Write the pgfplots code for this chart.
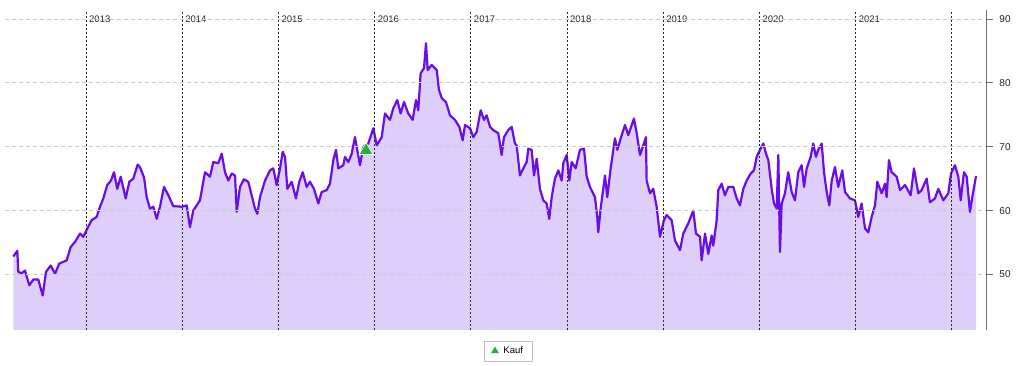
\documentclass[border=0pt]{standalone}
\usepackage{fontspec}
\setmainfont{Liberation Sans}
\usepackage{pgfplots}
\usepackage{pgfplotstable}
\pgfplotsset{compat=1.18}
\definecolor{linec}{RGB}{106,14,232}
\definecolor{fillc}{RGB}{222,207,250}
\definecolor{buyc}{RGB}{30,180,50}
\pgfplotstableread{
x y
2012.244 52.8
2012.286 53.7
2012.296 50.4
2012.332 50.2
2012.366 50.6
2012.411 48.3
2012.452 49.2
2012.504 49.2
2012.550 46.7
2012.584 50.4
2012.633 51.4
2012.678 50.1
2012.722 51.7
2012.799 52.2
2012.841 54.3
2012.886 55.1
2012.938 56.4
2012.972 55.9
2013.014 57.2
2013.059 58.5
2013.111 59.0
2013.146 60.6
2013.180 61.9
2013.221 64.0
2013.260 64.7
2013.291 66.0
2013.325 63.4
2013.361 65.3
2013.413 61.9
2013.450 64.5
2013.492 65.0
2013.537 67.2
2013.561 66.8
2013.603 65.2
2013.631 62.1
2013.665 60.3
2013.700 60.6
2013.735 58.7
2013.769 60.6
2013.811 63.7
2013.856 62.4
2013.907 60.7
2013.995 60.6
2014.047 60.8
2014.081 57.4
2014.115 60.0
2014.185 61.6
2014.237 66.0
2014.289 65.3
2014.323 67.6
2014.375 67.4
2014.411 68.9
2014.445 66.0
2014.479 64.7
2014.515 65.8
2014.549 65.5
2014.567 59.8
2014.601 63.7
2014.642 64.9
2014.687 64.5
2014.757 60.3
2014.781 59.5
2014.809 62.1
2014.861 64.7
2014.913 66.3
2014.947 66.6
2014.982 64.0
2015.017 66.6
2015.045 69.2
2015.069 68.4
2015.093 63.4
2015.138 64.5
2015.183 61.9
2015.217 64.5
2015.253 66.0
2015.294 63.7
2015.328 64.5
2015.370 63.4
2015.415 61.1
2015.450 62.9
2015.502 63.2
2015.536 64.2
2015.571 67.9
2015.599 69.5
2015.623 66.6
2015.675 67.1
2015.692 68.4
2015.727 67.6
2015.762 68.9
2015.796 71.5
2015.814 70.0
2015.848 67.1
2015.883 70.0
2015.935 70.5
2015.987 72.9
2016.022 70.2
2016.074 71.5
2016.108 75.2
2016.160 74.2
2016.194 76.0
2016.236 77.3
2016.271 75.2
2016.306 77.0
2016.350 75.2
2016.396 74.2
2016.430 77.3
2016.454 75.7
2016.479 81.5
2016.514 82.3
2016.534 86.2
2016.552 82.0
2016.594 82.8
2016.646 82.0
2016.669 78.9
2016.698 77.6
2016.742 77.0
2016.784 74.9
2016.836 74.2
2016.881 73.1
2016.916 71.0
2016.940 73.4
2016.992 72.9
2017.026 71.5
2017.061 72.3
2017.103 75.7
2017.137 74.2
2017.165 74.9
2017.200 73.1
2017.234 72.6
2017.286 72.1
2017.321 68.7
2017.345 71.5
2017.390 72.6
2017.425 73.1
2017.459 70.5
2017.477 70.2
2017.511 65.5
2017.553 66.8
2017.581 67.6
2017.598 69.7
2017.633 69.5
2017.657 65.5
2017.685 68.1
2017.719 63.4
2017.754 61.6
2017.789 61.1
2017.816 58.7
2017.841 62.1
2017.875 65.0
2017.910 66.3
2017.945 64.7
2017.962 67.4
2017.997 68.7
2018.024 64.7
2018.049 67.6
2018.090 66.6
2018.135 69.5
2018.177 69.7
2018.205 65.3
2018.239 63.7
2018.291 62.1
2018.315 59.0
2018.325 56.6
2018.350 60.3
2018.395 65.5
2018.419 62.1
2018.454 66.6
2018.499 71.3
2018.523 69.5
2018.569 71.8
2018.603 73.4
2018.637 71.8
2018.696 74.4
2018.725 72.1
2018.759 68.7
2018.793 70.2
2018.821 71.5
2018.828 64.7
2018.863 62.7
2018.897 63.4
2018.932 60.6
2018.967 55.9
2019.008 58.5
2019.036 59.3
2019.088 58.5
2019.123 55.3
2019.175 53.8
2019.209 56.4
2019.261 58.0
2019.313 60.0
2019.341 56.4
2019.383 55.9
2019.400 52.2
2019.435 56.4
2019.469 53.2
2019.504 56.1
2019.521 54.5
2019.556 58.5
2019.573 63.2
2019.608 64.2
2019.642 62.4
2019.677 63.7
2019.729 63.7
2019.764 61.9
2019.798 60.8
2019.833 63.4
2019.868 64.7
2019.910 65.8
2019.944 66.3
2019.972 68.4
2020.006 69.5
2020.041 70.5
2020.069 68.9
2020.093 67.9
2020.128 63.4
2020.152 61.1
2020.180 60.3
2020.197 68.7
2020.214 53.5
2020.232 61.1
2020.266 62.7
2020.300 66.0
2020.336 62.9
2020.370 61.6
2020.404 66.0
2020.440 67.1
2020.464 63.7
2020.492 66.6
2020.533 68.4
2020.560 70.5
2020.588 68.4
2020.612 69.5
2020.648 70.5
2020.672 66.0
2020.700 62.9
2020.727 60.8
2020.752 64.7
2020.786 66.8
2020.820 63.7
2020.862 66.3
2020.890 62.9
2020.942 61.9
2020.994 61.6
2021.028 59.0
2021.063 61.1
2021.098 57.2
2021.132 56.6
2021.167 59.0
2021.202 60.8
2021.226 64.5
2021.271 62.7
2021.306 64.2
2021.323 62.1
2021.347 67.9
2021.375 66.0
2021.427 65.3
2021.462 63.2
2021.514 64.0
2021.573 62.4
2021.607 66.6
2021.652 62.7
2021.687 63.2
2021.739 65.0
2021.773 61.3
2021.825 61.9
2021.860 63.4
2021.912 61.6
2021.964 62.7
2021.992 65.8
2022.033 67.1
2022.068 65.3
2022.093 61.6
2022.127 66.0
2022.155 65.3
2022.189 59.8
2022.217 62.4
2022.252 65.4
}\pricedata
\begin{document}
\begin{tikzpicture}
\useasboundingbox (-5pt,-35pt) rectangle (1019pt,330pt);
\begin{axis}[
  at={(0,0)}, anchor=south west,
  scale only axis, width=981pt, height=320pt,
  xmin=2012.158, xmax=2022.356, ymin=41.3, ymax=91.4,
  axis on top,
  axis y line*=right, axis x line*=bottom,
  x axis line style={draw=none},
  y axis line style={draw=black!55, line width=1pt},
  xtick={2013,2014,...,2022}, xticklabels={},
  x tick style={draw=none},
  ytick={50,60,70,80,90},
  tick align=outside, major tick length=7pt,
  y tick style={draw=black!55, line width=0.8pt},
  yticklabel style={font=\fontsize{10}{12}\selectfont, text=black!85, xshift=3pt},
  /pgf/number format/assume math mode=true,
  xmajorgrids, ymajorgrids,
  major x grid style={black!85, line width=0.7pt, dash pattern=on 2pt off 2pt},
  major y grid style={black!20, line width=0.7pt, dash pattern=on 4pt off 3pt},
  clip=false,
  legend style={at={(0.513,-0.0656)}, anchor=center, draw=black!25,
    font=\fontsize{9.5}{11}\selectfont, inner xsep=7pt, inner ysep=4pt,
    legend cell align=left, /tikz/every even column/.append style={column sep=4pt}},
]
\addplot[fill=fillc, draw=none, forget plot] table[x=x,y=y] {\pricedata} \closedcycle;
\addplot[linec, line width=2.2pt, line join=round, forget plot] table[x=x,y=y] {\pricedata};
\addplot[only marks, mark=triangle*, mark size=8pt, mark options={fill=buyc, draw=white, line width=0.6pt}, forget plot] coordinates {(2015.911,69.4)};
\addlegendimage{only marks, mark=triangle*, mark size=4pt, mark options={fill=buyc, draw=buyc}}
\addlegendentry{\hspace{3pt}Kauf}
\foreach \yr in {2013,2014,2015,2016,2017,2018,2019,2020,2021} {
  \edef\tmp{\noexpand\node[anchor=north west, inner sep=0pt, font=\noexpand\fontsize{9.5}{11}\noexpand\selectfont, text=black!85] at (axis cs:\yr,91.4) [xshift=3pt, yshift=-6pt] {\yr};}
  \tmp
}
\end{axis}
\end{tikzpicture}
\end{document}
